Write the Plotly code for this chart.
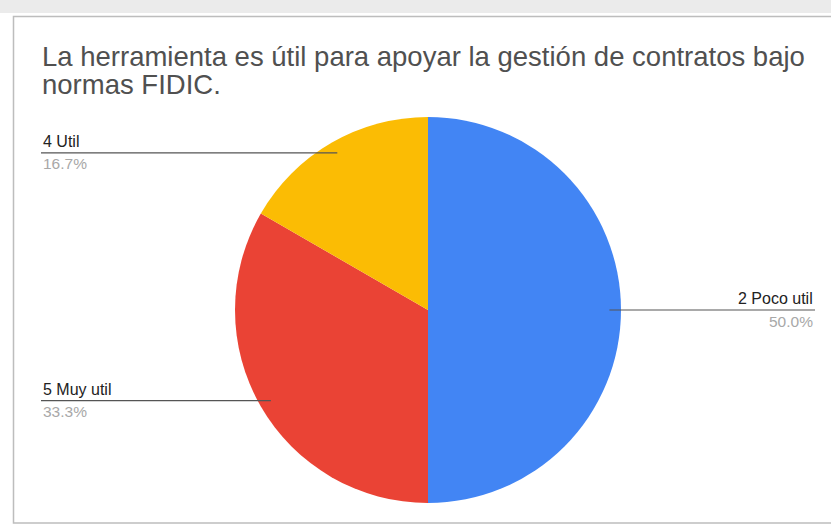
import math
import plotly.graph_objects as go

# ---- data ----
labels = ["2 Poco util", "5 Muy util", "4 Util"]
values = [3, 2, 1]
colors = ["#4285F4", "#EA4335", "#FBBC04"]
title_lines = ["La herramienta es útil para apoyar la gestión de contratos bajo", "normas FIDIC."]

W, H = 831, 527
CX, CY, R = 428, 310, 193  # pie centre / radius in pixels

fig = go.Figure()
fig.add_trace(go.Pie(
    labels=labels, values=values, sort=False, direction="clockwise", rotation=0,
    marker=dict(colors=colors, line=dict(width=0)),
    textinfo="none", hoverinfo="label+percent", showlegend=False,
    domain=dict(x=[(CX - R) / W, (CX + R) / W], y=[(H - CY - R) / H, (H - CY + R) / H]),
))

def px(x):
    return x / W

def py(y):
    return 1 - y / H

FONT = "Liberation Sans, Arial, sans-serif"
shapes = []
annotations = []

# background strip & frame
shapes.append(dict(type="rect", xref="paper", yref="paper", x0=0, x1=1, y0=py(13), y1=1,
                   fillcolor="#ebebeb", line=dict(width=0), layer="below"))
shapes.append(dict(type="rect", xref="paper", yref="paper", x0=px(13.5), x1=px(840), y0=py(523), y1=py(16.5),
                   fillcolor="white", line=dict(color="#bdbdbd", width=1.5), layer="below"))

for i, line in enumerate(title_lines):
    annotations.append(dict(text=line, xref="paper", yref="paper", x=px(40), y=py(74 + 28 * i),
                            xanchor="left", yanchor="bottom", align="left", showarrow=False,
                            font=dict(family=FONT, size=27.5, color="#505050")))

total = sum(values)
cum = 0
for lab, v in zip(labels, values):
    mid = (cum + v / 2) / total * 2 * math.pi
    cum += v
    dx, dy = math.sin(mid), -math.cos(mid)
    ex, ey = CX + 0.94 * R * dx, CY + 0.94 * R * dy
    pct = f"{100 * v / total:.1f}%"
    if dx > 0.01:
        x_end = 815
        anchor = "right"
    else:
        x_end = 41
        anchor = "left"
    shapes.append(dict(type="line", xref="paper", yref="paper", x0=px(ex), y0=py(ey),
                       x1=px(x_end), y1=py(ey), line=dict(color="#555555", width=1.2)))
    annotations.append(dict(text=lab, xref="paper", yref="paper", x=px(x_end), y=py(ey - 1),
                            xanchor=anchor, yanchor="bottom", showarrow=False,
                            font=dict(family=FONT, size=16, color="#222222")))
    annotations.append(dict(text=pct, xref="paper", yref="paper", x=px(x_end), y=py(ey + 0.5),
                            xanchor=anchor, yanchor="top", showarrow=False,
                            font=dict(family=FONT, size=15.5, color="#a8a8a8")))

fig.update_layout(width=W, height=H, margin=dict(l=0, r=0, t=0, b=0),
                  paper_bgcolor="white", plot_bgcolor="white",
                  shapes=shapes, annotations=annotations)

fig.write_html("out.html", config={"displayModeBar": False},
               post_script="document.body.style.margin='0';document.body.style.overflow='hidden';")
